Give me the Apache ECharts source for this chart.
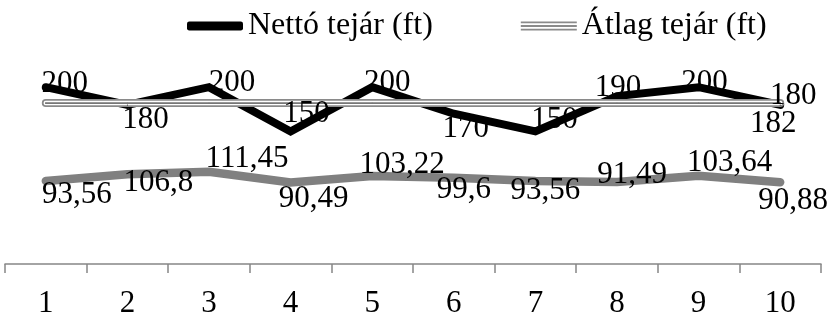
<!DOCTYPE html>
<html>
<head>
<meta charset="utf-8">
<script src="https://cdn.jsdelivr.net/npm/echarts@6/dist/echarts.min.js"></script>
<style>
  html, body { margin: 0; padding: 0; background: #fff; }
  #chart { width: 829px; height: 319px; }
</style>
</head>
<body>
<div id="chart"></div>
<script>
// adatok
const categories = ['1', '2', '3', '4', '5', '6', '7', '8', '9', '10']
const nettoValues = [200, 180, 200, 150, 200, 170, 150, 190, 200, 180]
const atlagValues = [182, 182, 182, 182, 182, 182, 182, 182, 182, 182]
const masikValues = [93.56, 106.8, 111.45, 90.49, 103.22, 99.6, 93.56, 91.49, 103.64, 90.88]

// címkék eltolása (px) a pontokhoz képest
const nettoLabelOffsets = [[19, -3], [18, 15], [23, -4], [16, -18], [15, -4], [12, 15], [19, -12], [1, -8], [6, -4], [13, -9]]
const masikLabelOffsets = [[31, 14], [31, 9], [38, -13], [23, 16], [30, -11], [10, 12], [10, 10], [15, -7], [31, -13], [13, 19]]

const font = '"Liberation Serif", "Times New Roman", serif'
const fmt = p => String(p.value).replace('.', ',')

function labeled(values, offsets, onlyLast) {
  return values.map((v, i) => ({
    value: v,
    label: { show: onlyLast ? i === values.length - 1 : true, offset: offsets[i] }
  }))
}

const labelBase = {
  position: 'inside',
  fontFamily: font,
  fontSize: 31,
  color: '#000',
  formatter: fmt
}

var myChart = echarts.init(document.getElementById('chart'))
var option = {
  animation: false,
  legend: {
    left: 187,
    top: 10,
    padding: 0,
    itemGap: 88,
    itemWidth: 56,
    itemHeight: 9,
    textStyle: { fontFamily: font, fontSize: 32, color: '#000' },
    data: [
      { name: 'Nettó tejár (ft)', icon: 'roundRect', itemStyle: { color: '#000' } },
      { name: 'Átlag tejár (ft)', icon: 'path://M0,0h56v1.8h-56z M0,3.6h56v1.8h-56z M0,7.2h56v1.8h-56z', itemStyle: { color: '#8a8a8a' } }
    ]
  },
  grid: { left: 5, right: 8, top: 43, bottom: 52 },
  xAxis: {
    type: 'category',
    data: categories,
    boundaryGap: true,
    axisLine: { lineStyle: { color: '#868686', width: 1.5 } },
    axisTick: { show: true, length: 9, lineStyle: { color: '#868686', width: 1.5 } },
    axisLabel: { fontFamily: font, fontSize: 31, color: '#000', margin: 24 },
    splitLine: { show: false }
  },
  yAxis: [
    { type: 'value', min: 0, max: 250, show: false },
    { type: 'value', min: -70, max: 365, show: false }
  ],
  series: [
    {
      name: 'Nettó tejár (ft)',
      type: 'line',
      data: labeled(nettoValues, nettoLabelOffsets),
      symbol: 'circle', symbolSize: 1, showSymbol: true,
      itemStyle: { color: '#000' },
      lineStyle: { color: '#000', width: 8, cap: 'round', join: 'miter' },
      label: labelBase,
      emphasis: { disabled: true }
    },
    {
      name: 'Átlag tejár (ft)',
      type: 'line',
      data: atlagValues,
      symbol: 'none',
      itemStyle: { color: '#8a8a8a' },
      lineStyle: { color: '#8a8a8a', width: 8, cap: 'round' },
      emphasis: { disabled: true }
    },
    {
      name: 'atlag-feher',
      type: 'line',
      data: atlagValues,
      symbol: 'none',
      lineStyle: { color: '#fff', width: 4.5, cap: 'round' },
      emphasis: { disabled: true }
    },
    {
      name: 'atlag-kozep',
      type: 'line',
      data: labeled(atlagValues, atlagValues.map(() => [-7, 21]), true),
      symbol: 'circle', symbolSize: 1, showSymbol: true,
      itemStyle: { color: '#777' },
      lineStyle: { color: '#777', width: 1.8, cap: 'round' },
      label: labelBase,
      emphasis: { disabled: true }
    },
    {
      name: 'Tejár (ft)',
      type: 'line',
      yAxisIndex: 1,
      data: labeled(masikValues, masikLabelOffsets),
      symbol: 'circle', symbolSize: 1, showSymbol: true,
      itemStyle: { color: '#808080' },
      lineStyle: { color: '#808080', width: 8.5, cap: 'round', join: 'miter' },
      label: labelBase,
      emphasis: { disabled: true }
    }
  ]
}

option && myChart.setOption(option)
</script>
</body>
</html>
